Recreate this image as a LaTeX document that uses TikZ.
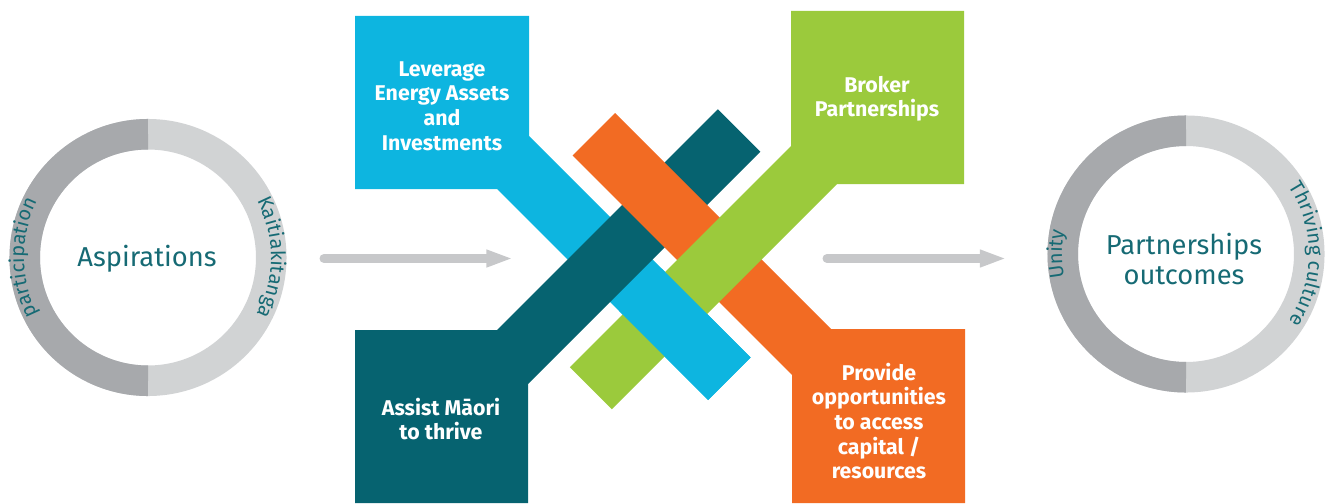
\documentclass[tikz,border=0pt]{standalone}
\usepackage{fontspec}
\setmainfont{Fira Sans}
\usetikzlibrary{arrows.meta,decorations.text}

\definecolor{bandblue}{RGB}{13,181,224}
\definecolor{bandteal}{RGB}{6,99,112}
\definecolor{bandorange}{RGB}{242,107,35}
\definecolor{bandgreen}{RGB}{155,202,60}
\definecolor{ringdark}{RGB}{167,169,172}
\definecolor{ringlight}{RGB}{209,211,212}
\definecolor{arrowgray}{RGB}{199,200,202}
\definecolor{labelteal}{RGB}{22,106,116}

\tikzset{every picture/.style={line width=0.75pt}}
\tikzset{
	boxtext/.style={text=white, align=center, font=\bfseries\fontsize{16}{18.4}\selectfont},
	ringtitle/.style={text=labelteal, align=center, font=\fontsize{20.5}{22.5}\selectfont},
	ringband/.style={line width=22.9pt},
	flowarrow/.style={draw=arrowgray, line width=6.75pt, line cap=round, -{Triangle[length=20pt,width=12pt]}},
	ringlabel/.style={decorate, decoration={text along path, text align=center, text color=labelteal, text={|\fontsize{15}{15}\selectfont|#1}}}
}

\begin{document}
\begin{tikzpicture}[x=0.75pt,y=0.75pt,yscale=-1,xscale=1]
	\useasboundingbox (0,0) rectangle (1327,503);

	%Shape: Ring [left]
	\coordinate (aspc) at (148,257.5);
	\draw [ringband, ringlight] (aspc) circle [radius=123.25];
	\draw [ringband, ringdark] (148,380.75) arc [start angle=90, end angle=270, radius=123.25];
	%Shape: Ring [right]
	\coordinate (outcc) at (1186,254);
	\draw [ringband, ringlight] (outcc) circle [radius=123.25];
	\draw [ringband, ringdark] (1186,377.25) arc [start angle=90, end angle=270, radius=123.25];

	% Ring labels
	\begin{scope}[yscale=-1]
	\path [ringlabel=participation] ([shift={(148,-257.5)}]215:124) arc [start angle=215, end angle=145, radius=124];
	\path [ringlabel=Kaitiakitanga] ([shift={(148,-257.5)}]38:123) arc [start angle=38, end angle=-38, radius=123];
	\path [ringlabel=Unity] ([shift={(1186,-254)}]210:124) arc [start angle=210, end angle=150, radius=124];
	\path [ringlabel=Thriving culture] ([shift={(1186,-254)}]50:123) arc [start angle=50, end angle=-50, radius=123];
	\end{scope}

	%Straight Lines [arrows]
	\coordinate (a1s) at (324,258.5);
	\coordinate (a1e) at (513,258.5);
	\draw [flowarrow] (a1s) -- (a1e);
	\coordinate (a2s) at (827,258.5);
	\coordinate (a2e) at (1006.5,258.5);
	\draw [flowarrow] (a2s) -- (a2e);

	%Shape: Polygon [blue band]
	\fill [bandblue] (355,16) -- (529,16) -- (529,136) -- (750.5,357.5) -- (708,400) -- (497,189) -- (355,189) -- cycle;
	%Shape: Polygon [teal band]
	\fill [bandteal] (355,330) -- (497,330) -- (717.75,109.25) -- (760.25,151.75) -- (528,384) -- (528,503) -- (355,503) -- cycle;
	%Shape: Polygon [orange band]
	\fill [bandorange] (615,113) -- (831,329) -- (965,329) -- (965,503) -- (792,503) -- (792,375) -- (572.5,155.5) -- cycle;
	%Shape: Polygon [green band]
	\fill [bandgreen] (791,11) -- (964,11) -- (964,184) -- (837,184) -- (611.75,409.25) -- (569.75,367.25) -- (791,146) -- cycle;
	%Shape: Polygon [blue band, over green]
	\fill [bandblue] (661.5,268.5) -- (750.5,357.5) -- (708,400) -- (619,311) -- cycle;

	% Text Node
	\node [boxtext] (lev) at (442,106) {Leverage\\Energy Assets\\and\\Investments};
	% Text Node
	\node [boxtext] (brk) at (877,99) {Broker\\Partnerships};
	% Text Node
	\node [boxtext] (assist) at (441,419) {Assist Māori\\to thrive};
	% Text Node
	\node [boxtext] (prov) at (879,421) {Provide\\opportunities\\to access\\capital /\\resources};
	% Text Node
	\node [ringtitle] (asp) at (147,259) {Aspirations};
	% Text Node
	\node [ringtitle] (outc) at (1184,259) {Partnerships\\outcomes};

\end{tikzpicture}
\end{document}
